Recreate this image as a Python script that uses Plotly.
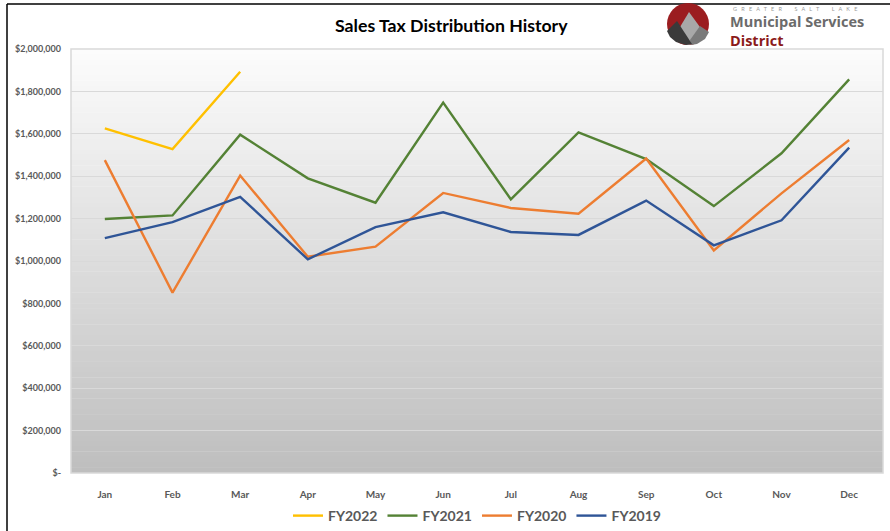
import plotly.graph_objects as go

months = ["Jan", "Feb", "Mar", "Apr", "May", "Jun", "Jul", "Aug", "Sep", "Oct", "Nov", "Dec"]
fy2022 = [1626000, 1528000, 1893000]
fy2021 = [1198000, 1215000, 1596000, 1390000, 1275000, 1747000, 1291000, 1607000, 1481000, 1259000, 1508000, 1857000]
fy2020 = [1476000, 851000, 1403000, 1020000, 1068000, 1321000, 1250000, 1223000, 1483000, 1050000, 1319000, 1571000]
fy2019 = [1108000, 1183000, 1303000, 1008000, 1160000, 1230000, 1137000, 1123000, 1285000, 1074000, 1192000, 1535000]
ytick_vals = [0, 200000, 400000, 600000, 800000, 1000000, 1200000, 1400000, 1600000, 1800000, 2000000]
ytick_text = ["$-", "$200,000", "$400,000", "$600,000", "$800,000", "$1,000,000",
              "$1,200,000", "$1,400,000", "$1,600,000", "$1,800,000", "$2,000,000"]

W, H = 890, 531
L, R, T, B = 71, 883, 49, 473

def px(x):
    return (x - L) / (R - L)

def py(y):
    return (B - y) / (B - T)

fig = go.Figure()
series = [("FY2022", fy2022, "#FFC000"), ("FY2021", fy2021, "#548235"),
          ("FY2020", fy2020, "#ED7D31"), ("FY2019", fy2019, "#2F5597")]
for name, vals, col in series:
    fig.add_trace(go.Scatter(x=months[:len(vals)], y=vals, name=name, mode="lines",
                             line=dict(color=col, width=2.4)))

shapes = []
# gradient background of plot area
N = 80
for i in range(N):
    t = (i + 0.5) / N
    v = int(round(252 - (252 - 190) * t))
    c = f"rgb({v},{v},{v})"
    shapes.append(dict(type="rect", xref="paper", yref="paper", x0=0, x1=1,
                       y0=1 - (i + 1) / N, y1=1 - i / N + 0.001, fillcolor=c,
                       line=dict(width=0), layer="below"))
# plot border
shapes.append(dict(type="rect", xref="paper", yref="paper", x0=0, x1=1, y0=0, y1=1,
                   line=dict(color="#d9d9d9", width=1.5), layer="above"))
# outer frame lines
shapes.append(dict(type="line", xref="paper", yref="paper", x0=px(7), x1=px(895), y0=py(4), y1=py(4),
                   line=dict(color="black", width=1.5)))
shapes.append(dict(type="line", xref="paper", yref="paper", x0=px(7), x1=px(7), y0=py(4), y1=py(540),
                   line=dict(color="black", width=1.5)))

# logo
cx, cy, r = 688, 24, 21
shapes.append(dict(type="circle", xref="paper", yref="paper", x0=px(cx - r), x1=px(cx + r),
                   y0=py(cy + r), y1=py(cy - r), fillcolor="#9b1d20", line=dict(width=0)))

def poly(pts, color):
    d = "M " + " L ".join(f"{px(x):.5f},{py(y):.5f}" for x, y in pts) + " Z"
    return dict(type="path", xref="paper", yref="paper", path=d, fillcolor=color, line=dict(width=0))

shapes.append(poly([(674, 37), (689, 12), (705, 34), (699, 42), (688, 45), (678, 42)], "#a8a8a8"))
shapes.append(poly([(690, 40), (700, 26), (709, 32), (705, 39), (697, 44), (691, 45)], "#7a7a7a"))
shapes.append(poly([(667, 31), (677, 21), (692, 44), (686, 45), (676, 42), (670, 37)], "#3a3a3a"))

nb = "\u00a0"
def spaced(word):
    return (nb * 3).join(word)
tagline = (nb * 9).join(spaced(w) for w in ["GREATER", "SALT", "LAKE"])

annotations = [
    dict(text="Sales Tax Distribution History", x=px(451), y=py(25), xref="paper", yref="paper",
         showarrow=False, font=dict(family="Lato", size=17.7, color="black", weight="bold"),
         xanchor="center", yanchor="middle"),
    dict(text=tagline, x=px(731), y=py(9), xref="paper", yref="paper",
         showarrow=False, font=dict(family="Lato", size=5.5, color="#999999"),
         xanchor="left", yanchor="middle"),
    dict(text="Municipal Services", x=px(728), y=py(21.5), xref="paper", yref="paper",
         showarrow=False, font=dict(family="Open Sans", size=14.5, color="#6b6b6b", weight="bold"),
         xanchor="left", yanchor="middle"),
    dict(text="District", x=px(728), y=py(40), xref="paper", yref="paper",
         showarrow=False, font=dict(family="Open Sans", size=14.5, color="#8b1a1a", weight="bold"),
         xanchor="left", yanchor="middle"),
]

fig.update_layout(
    width=W, height=H,
    margin=dict(l=L, r=W - R, t=T, b=H - B, pad=0, autoexpand=False),
    paper_bgcolor="white", plot_bgcolor="rgba(0,0,0,0)",
    shapes=shapes, annotations=annotations,
    font=dict(family="Lato", color="#595959"),
    showlegend=True,
    legend=dict(orientation="h", x=0.5, xanchor="center", y=py(516), yanchor="middle",
                font=dict(family="Lato", size=14, color="#595959", weight="bold"),
                itemwidth=30, bgcolor="rgba(0,0,0,0)"),
    xaxis=dict(type="category", range=[-0.5, 11.5], showgrid=False, zeroline=False,
               showline=False, ticks="", ticklabelstandoff=14, automargin=False,
               tickfont=dict(family="Lato", size=10, color="#595959", weight="bold")),
    yaxis=dict(range=[0, 2000000], tickvals=ytick_vals, ticktext=ytick_text,
               showgrid=True, gridcolor="#d9d9d9", gridwidth=1.2, zeroline=False,
               showline=False, ticks="", ticklabelstandoff=9, automargin=False,
               tickfont=dict(family="Lato", size=9, color="#595959", weight="bold")),
)

fig.write_html("out.html", config={"displayModeBar": False},
               post_script="document.body.style.margin='0';")
